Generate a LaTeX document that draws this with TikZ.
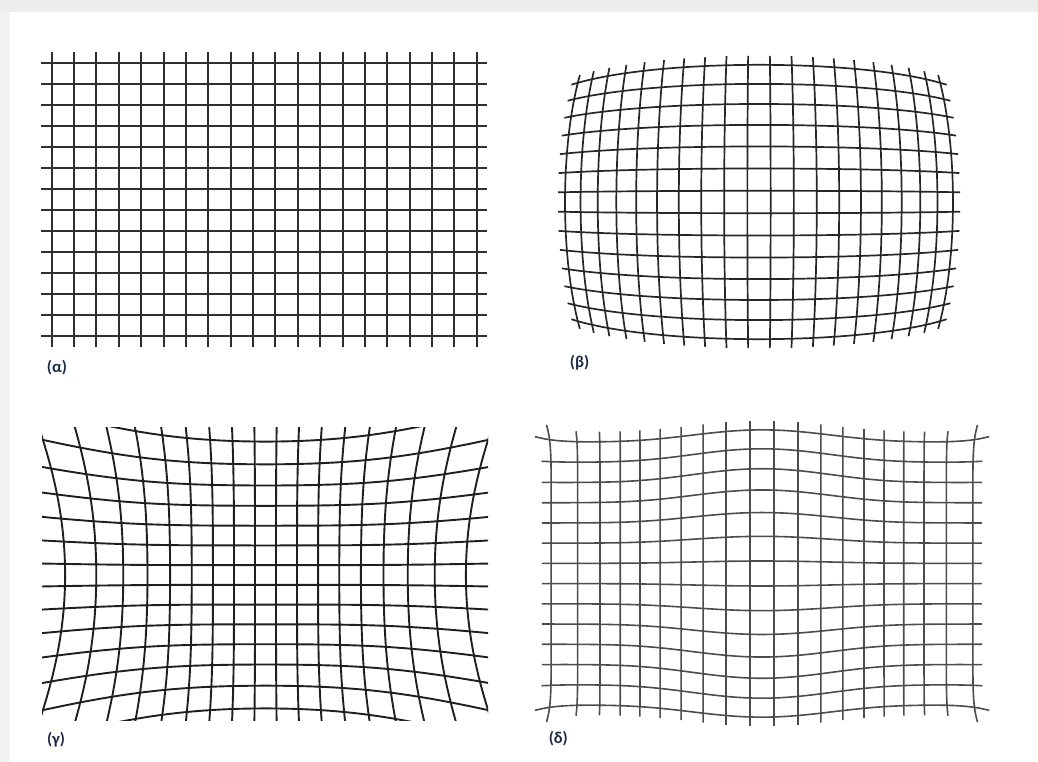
\documentclass[tikz,border=0pt]{standalone}
\usepackage{fontspec}
\setmainfont{Carlito}
\definecolor{labc}{HTML}{1F2A44}
\begin{document}
\begin{tikzpicture}[x=1pt,y=-1pt,
  declare function={
    fb(\r)=1-\r/730;
    fg(\r)=1+(\r/206.3)*(\r/206.3);
    cx(\u,\v)=24*\u*(1-\u*\u/300+(\u*\u/190)*(\u*\u/190))
              +ifthenelse(\u<0,-1,1)*1.6*(abs(\u)/9.5)^8*(abs(\v)/6.5)^12;
    cy(\u,\v)=\v*(20.2+4.8*exp(-(\u/4)^2)*exp(-(\v/6.75)^2))
              +ifthenelse(\v<0,-1,1)*2.5*(abs(\u)/9.5)^17*(abs(\v)/6.5)^8;
  },
  gridA/.style={line width=2pt, black!82},
  gridB/.style={line width=1.7pt, black!85},
  gridC/.style={line width=1.9pt, black!88},
  gridD/.style={line width=1.6pt, black!70},
  lab/.style={font=\bfseries\fontsize{16.5}{19}\selectfont, text=labc, inner sep=0pt}
]
\useasboundingbox (0,0) rectangle (1038,762);
\fill[black!7] (0,0) rectangle (1038,12);
\fill[black!5] (0,12) rectangle (10,762);

% (alpha) regular grid
\foreach \i in {0,...,19}
  \draw[gridA] ({51.7+22.37*\i},51.7) -- ({51.7+22.37*\i},346.7);
\foreach \j in {0,...,13}
  \draw[gridA] (41,{62.7+21.02*\j}) -- (487,{62.7+21.02*\j});
\node[lab] (la) at (57,368) {(α)};

% (beta) barrel
\foreach \a in {-9.5,-8.5,...,9.5}
  \draw[gridB] plot[variable=\t, domain=-7:7, samples=40]
    ({759+23.3*\a*fb(\a*\a+\t*\t)},{202+22.4*\t*fb(\a*\a+\t*\t)});
\foreach \b in {-6.5,-5.5,...,6.5}
  \draw[gridB] plot[variable=\t, domain=-10:10, samples=50]
    ({759+23.3*\t*fb(\t*\t+\b*\b)},{202+22.4*\b*fb(\t*\t+\b*\b)});
\node[lab] (lb) at (579.5,362.5) {(β)};

% (gamma) pincushion
\begin{scope}
\clip (42,427) rectangle (488,720);
\foreach \a in {-8.5,-7.5,...,8.5}
  \draw[gridC] plot[variable=\t, domain=-8.5:8.5, samples=50]
    ({265.5+21*\a*fg(\a*\a+\t*\t)},{575+19.7*\t*fg(\a*\a+\t*\t)});
\foreach \b in {-6.5,-5.5,...,6.5}
  \draw[gridC] plot[variable=\t, domain=-11:11, samples=60]
    ({265.5+21*\t*fg(\t*\t+\b*\b)},{575+19.7*\b*fg(\t*\t+\b*\b)});
\end{scope}
\node[lab] (lc) at (56,740) {(γ)};

% (delta) mustache
\foreach \a [evaluate=\a as \ext using {abs(\a)>9?7.1:7}] in {-9.5,-8.5,...,9.5}
  \draw[gridD] plot[variable=\t, domain=-\ext:\ext, samples=40, smooth]
    ({762+cx(\a,\t)},{573.5+cy(\a,\t)});
\foreach \b [evaluate=\b as \dm using {abs(\b)>6?9.95:9.8}] in {-6.5,-5.5,...,6.5}
  \draw[gridD] plot[variable=\t, domain=-\dm:\dm, samples=60, smooth]
    ({762+cx(\t,\b)},{573.5+cy(\t,\b)});
\node[lab] (ld) at (558.3,738.3) {(δ)};
\end{tikzpicture}
\end{document}
